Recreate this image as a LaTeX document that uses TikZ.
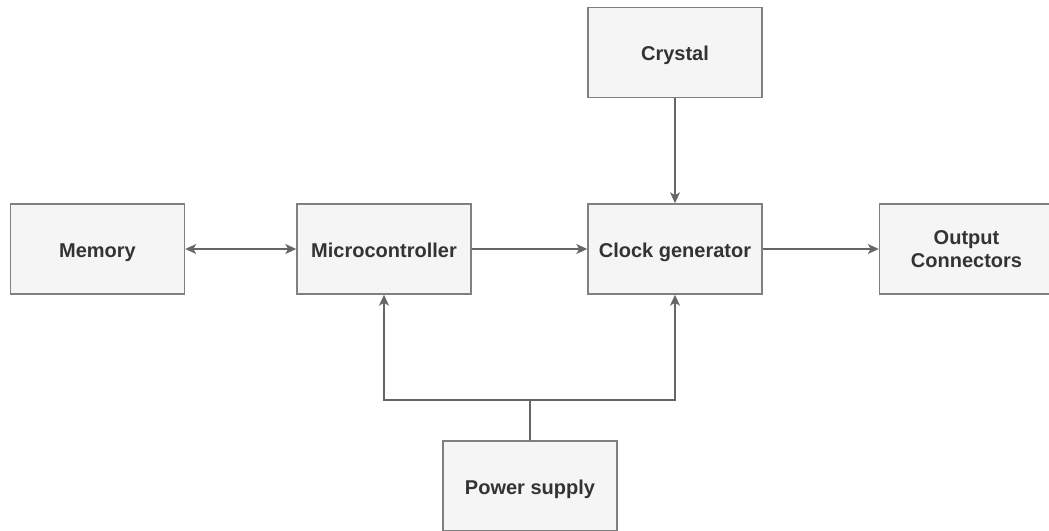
\documentclass[tikz,border=0pt]{standalone}
\usepackage{fontspec}
\setmainfont{Liberation Sans}
\usetikzlibrary{arrows.meta}
\definecolor{boxfill}{HTML}{F5F5F5}
\definecolor{boxline}{HTML}{808080}
\definecolor{txt}{HTML}{333333}
\definecolor{wire}{HTML}{666666}
\tikzset{
  blockbase/.style={draw=boxline, fill=boxfill, line width=1.5pt, minimum width=174pt, minimum height=90pt, inner sep=0pt, align=center, font=\fontsize{20}{23}\selectfont\bfseries, text=txt},
  block/.style={blockbase, text height=18pt, text depth=1.5pt},
  conn/.style={draw=wire, line width=1.3pt, -{Stealth[length=11pt,width=10pt,inset=3pt]}},
  plain/.style={draw=wire, line width=1.3pt}
}
\begin{document}
\begin{tikzpicture}[x=1pt,y=-1pt]
\useasboundingbox (0,0) rectangle (1049,530);
\clip (0,0) rectangle (1049,530);
\node[block] (crystal) at (675,52.5) {Crystal};
\node[block] (memory) at (97.5,249) {Memory};
\node[block] (micro) at (384,249) {Microcontroller};
\node[block] (clock) at (675,249) {Clock generator};
\node[blockbase] (output) at (966.5,249) {Output\\Connectors};
\node[block] (power) at (530,486) {Power supply};
\coordinate (bus) at (530,400);
\draw[conn, {Stealth[length=11pt,width=10pt,inset=3pt]}-{Stealth[length=11pt,width=10pt,inset=3pt]}] (memory) -- (micro);
\draw[conn] (micro) -- (clock);
\draw[conn] (clock) -- (output);
\draw[conn] (crystal) -- (clock);
\draw[plain] (power.north) -- (bus);
\draw[conn] (bus) -| (micro.south);
\draw[conn] (bus) -| (clock.south);
\end{tikzpicture}
\end{document}
